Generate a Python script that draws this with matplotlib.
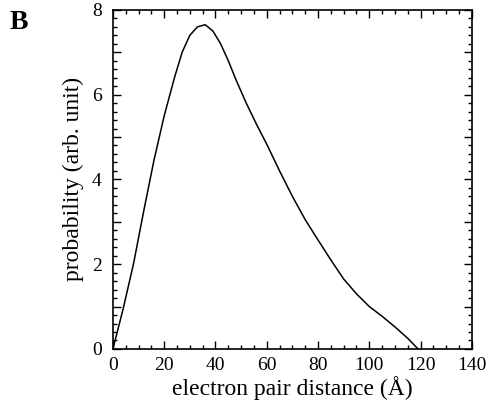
import matplotlib.pyplot as plt
from matplotlib.ticker import MultipleLocator, FuncFormatter

# distance (Angstrom) and probability (arb. unit)
distance = [0, 4, 8, 12, 16, 20, 24, 27, 30, 33, 36, 39, 42, 45, 48, 52, 56,
            60, 65, 70, 75, 80, 85, 90, 95, 100, 105, 110, 115, 119]
probability = [0, 0.95, 2.0, 3.25, 4.45, 5.5, 6.4, 7.0, 7.4, 7.6, 7.65, 7.5,
               7.2, 6.8, 6.35, 5.8, 5.3, 4.83, 4.2, 3.6, 3.05, 2.57, 2.1,
               1.65, 1.3, 1.0, 0.77, 0.52, 0.25, 0.0]

plt.rcParams['font.family'] = ['Liberation Serif', 'DejaVu Serif']

fig = plt.figure(figsize=(4.91, 4.11), dpi=100)
ax = fig.add_axes([0.230, 0.151, 0.731, 0.825])

ax.plot(distance, probability, color='black', lw=1.1)

ax.set_xlim(0, 140)
ax.set_ylim(0, 8)
ax.xaxis.set_major_locator(MultipleLocator(20))
ax.xaxis.set_minor_locator(MultipleLocator(5))
ax.yaxis.set_major_locator(MultipleLocator(1))
ax.yaxis.set_minor_locator(MultipleLocator(0.2))
ax.yaxis.set_major_formatter(FuncFormatter(
    lambda v, p: f'{int(v)}' if int(round(v)) % 2 == 0 else ''))

ax.tick_params(which='both', direction='in', top=True, right=True,
               labelsize=14, width=1)
ax.tick_params(which='major', length=6)
ax.tick_params(which='minor', length=3)
ax.tick_params(axis='x', pad=6)
ax.tick_params(axis='y', pad=8)
for s in ax.spines.values():
    s.set_linewidth(1.2)

ax.set_xlabel('electron pair distance (Å)', fontsize=17, labelpad=1)
ax.set_ylabel('probability (arb. unit)', fontsize=17, labelpad=6)

fig.text(0.02, 0.945, 'B', fontsize=20, fontweight='bold', va='center')

fig.savefig('out.png', dpi=100)
